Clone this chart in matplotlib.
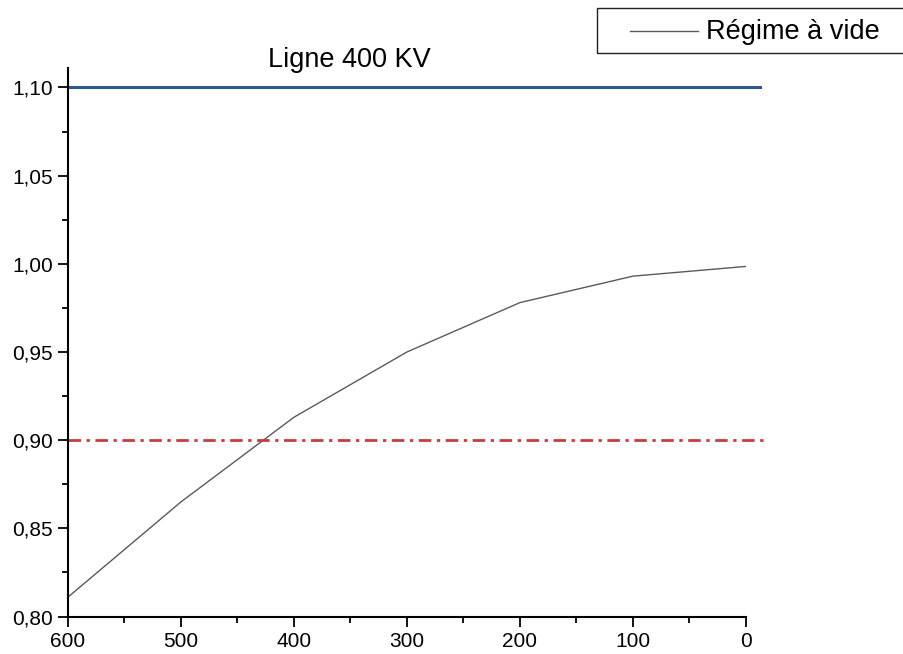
import matplotlib.pyplot as plt
from matplotlib.ticker import MultipleLocator, FuncFormatter
from matplotlib.patches import Rectangle
from matplotlib.lines import Line2D

plt.rcParams['font.family'] = ['Liberation Sans', 'DejaVu Sans']
plt.rcParams['font.size'] = 15

# ==== Data ==== #
longueur = [600, 500, 400, 300, 200, 100, 0]
tension_vide = [0.811, 0.865, 0.913, 0.950, 0.978, 0.993, 0.9985]
limite_haute = 1.10
limite_basse = 0.90

fig = plt.figure(figsize=(9.04, 6.54), dpi=100)
ax = fig.add_axes([0.0752, 0.0573, 0.7500, 0.8387])

courbe, = ax.plot(longueur, tension_vide, color='#5a5a5a', lw=1.0, label='Régime à vide')
ax.plot([600, -12], [limite_haute, limite_haute], color='#2b5797', lw=2.2,
        clip_on=False)
ax.plot([600, -17], [limite_basse, limite_basse], color='#c83c3c', lw=2.0,
        linestyle=(0, (4.5, 2, 1.2, 2)), clip_on=False)

ax.set_xlim(600, 0)
ax.set_ylim(0.80, 1.111)
ax.xaxis.set_major_locator(MultipleLocator(100))
ax.xaxis.set_minor_locator(MultipleLocator(50))
ax.yaxis.set_major_locator(MultipleLocator(0.05))
ax.yaxis.set_minor_locator(MultipleLocator(0.025))
ax.yaxis.set_major_formatter(FuncFormatter(lambda v, p: f"{v:.2f}".replace('.', ',')))

for s in ['top', 'right']:
    ax.spines[s].set_visible(False)
for s in ['left', 'bottom']:
    ax.spines[s].set_linewidth(1.5)
ax.tick_params(which='major', direction='out', length=7, width=1.3, pad=4)
ax.tick_params(which='minor', direction='out', length=4, width=1.3)

fig.text(268 / 904, 1 - 67 / 654, 'Ligne 400 KV', ha='left', va='baseline',
         fontsize=19.5)

# ==== Legend box (cut by the right edge, like the scan) ==== #
fig.patches.append(Rectangle((597 / 904, 1 - 53 / 654), 0.40, 45 / 654,
                             transform=fig.transFigure, fill=False,
                             edgecolor='#222222', lw=1.0))
fig.lines.append(Line2D([630 / 904, 698 / 904], [1 - 31 / 654, 1 - 31 / 654],
                        transform=fig.transFigure, color=courbe.get_color(), lw=1.0))
fig.text(706 / 904, 1 - 39 / 654, courbe.get_label(), ha='left', va='baseline',
         fontsize=19.5)

plt.savefig('out.png', dpi=100)
